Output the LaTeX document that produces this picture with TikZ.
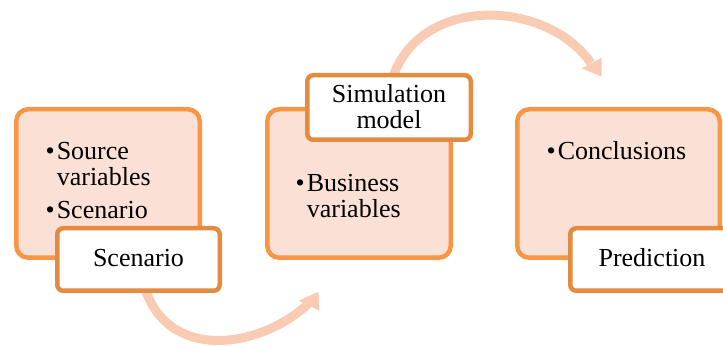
\documentclass[tikz,border=0pt]{standalone}
\usepackage{fontspec}
\setmainfont{Liberation Serif}
\definecolor{panelEdge}{HTML}{F79646}
\definecolor{panelFill}{HTML}{FBE0D5}
\definecolor{tagEdge}{HTML}{E38B40}
\definecolor{flowPeach}{HTML}{F9CBB3}
\begin{document}
\begin{tikzpicture}[x=1pt,y=-1pt,
  panel/.style={draw=panelEdge, fill=panelFill, line width=4.5pt, rounded corners=12pt, inner sep=0pt},
  tag/.style={draw=tagEdge, fill=white, line width=4.5pt, rounded corners=6pt, inner sep=0pt},
  flow/.style={draw=flowPeach, line width=9pt},
  flowhead/.style={fill=flowPeach},
  label/.style={inner sep=0pt, font=\fontsize{26}{26}\selectfont}
]
\useasboundingbox (0,0) rectangle (723,347);
\clip (0,0) rectangle (723,347);

% main panels
\node[panel, minimum width=183.5pt, minimum height=148.5pt] (p1) at (108,183.5) {};
\node[panel, minimum width=183.5pt, minimum height=148.5pt] (p2) at (359,183.5) {};
\node[panel, minimum width=202.5pt, minimum height=148.5pt] (p3) at (618.5,183.5) {};

% curved flow arrows
\coordinate (t0) at (392,80);
\coordinate (t1) at (591,63);
\draw[flow] (t0) .. controls (418,-5) and (545,-2) .. (t1);
\fill[flowhead] (581.7,68.3) -- (601.7,57.7) -- (601.7,76.7) -- cycle;

\coordinate (b0) at (143,282);
\coordinate (b1) at (309,303);
\draw[flow] (b0) .. controls (165,365) and (262,348) .. (b1);
\fill[flowhead] (299,300.7) -- (318.3,291.7) -- (319.3,310.7) -- cycle;

% captions
\node[tag, minimum width=162.5pt, minimum height=62.5pt] (c1) at (138.5,259.5) {};
\node[tag, minimum width=163.5pt, minimum height=64.5pt] (c2) at (389,107.5) {};
\node[tag, minimum width=163.5pt, minimum height=62.5pt] (c3) at (652,259.5) {};

% panel texts
\node[label, anchor=base west] (x1) at (45.5,160)
  {\begin{tabular}[t]{@{}l@{\hspace{2pt}}l@{}}\textbullet&Source\\&variables\\[7pt]\textbullet&Scenario\end{tabular}};
\node[label, anchor=base west] (x2) at (295.5,192)
  {\begin{tabular}[t]{@{}l@{\hspace{2pt}}l@{}}\textbullet&Business\\&variables\end{tabular}};
\node[label, anchor=base west] (x3) at (546.5,160)
  {\begin{tabular}[t]{@{}l@{\hspace{2pt}}l@{}}\textbullet&Conclusions\end{tabular}};

% caption texts
\node[label, anchor=base] (y1) at (138.5,267) {Scenario};
\node[label, anchor=base] (y2) at (389,103)
  {\begin{tabular}[t]{@{}c@{}}Simulation\\model\end{tabular}};
\node[label, anchor=base] (y3) at (652,267) {Prediction};
\end{tikzpicture}
\end{document}
